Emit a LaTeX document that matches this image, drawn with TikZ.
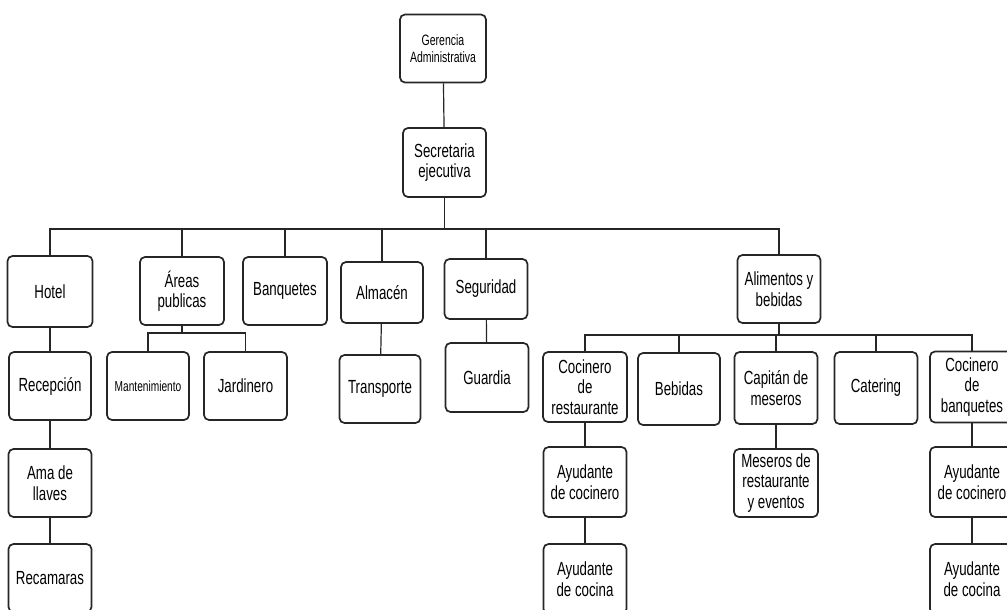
\documentclass[tikz,border=0pt]{standalone}
\usepackage{fontspec}
\setmainfont{Liberation Sans}[FakeStretch=0.70]
\usepackage{tikz}
\usetikzlibrary{positioning}

\tikzset{
  puesto/.style={draw=black!85,line width=1.7pt,rounded corners=5pt,align=center,inner sep=1pt,
    minimum width=83pt,minimum height=69pt,font=\fontsize{19}{20.5}\selectfont},
  linea/.style={line width=1.2pt,black!85}
}

\begin{document}
\begin{tikzpicture}[x=1pt,y=-1pt]
\useasboundingbox (0,0) rectangle (1007,610);
\clip (0,0) rectangle (1007,610);

% direccion
\node[puesto,minimum width=86pt,minimum height=68pt,font=\fontsize{15}{17.5}\selectfont] (ger) at (443,48.5) {Gerencia\\Administrativa};
\node[puesto] (sec) at (444.5,162.5) {Secretaria\\ejecutiva};

% areas
\node[puesto,minimum width=85pt,minimum height=71pt] (hotel) at (50,291.5) {Hotel};
\node[puesto,minimum width=84pt,minimum height=68pt] (areas) at (182,291) {Áreas\\publicas};
\node[puesto,minimum width=84pt,minimum height=68pt] (banq) at (285,291) {Banquetes};
\node[puesto,minimum width=82pt,minimum height=61pt] (alm) at (382,292.5) {Almacén};
\node[puesto,minimum height=60pt] (seg) at (486,289) {Seguridad};
\node[puesto,minimum height=68pt] (alim) at (779,289) {Alimentos y\\bebidas};

% segundo nivel
\node[puesto,minimum width=82pt,minimum height=68pt] (rec) at (50,386) {Recepción};
\node[puesto,minimum width=82pt,minimum height=68pt,font=\fontsize{14.5}{16}\selectfont] (mant) at (148,386) {Mantenimiento};
\node[puesto,minimum height=68pt] (jard) at (245.5,386) {Jardinero};
\node[puesto,minimum width=81pt,minimum height=68pt] (trans) at (380,389) {Transporte};
\node[puesto] (guard) at (487,377.5) {Guardia};
\node[puesto,minimum width=84pt,minimum height=70pt] (cocr) at (585,387) {Cocinero\\de\\restaurante};
\node[puesto,minimum width=82pt,minimum height=72pt] (beb) at (679,389) {Bebidas};
\node[puesto,minimum height=72pt] (cap) at (776,388) {Capitán de\\meseros};
\node[puesto,minimum height=72pt] (cat) at (876,388) {Catering};
\node[puesto,minimum width=84pt,minimum height=71pt] (cocb) at (972,387) {Cocinero\\de\\banquetes};

% tercer nivel
\node[puesto,minimum height=68pt] (ama) at (50,483) {Ama de\\llaves};
\node[puesto,minimum height=68pt] (reca) at (50,578) {Recamaras};
\node[puesto,minimum height=70pt] (ayc1) at (585,482) {Ayudante\\de cocinero};
\node[puesto,minimum height=70pt] (ayk1) at (585,579) {Ayudante\\de cocina};
\node[puesto,minimum width=84pt,minimum height=68pt] (mes) at (776,483) {Meseros de\\restaurante\\y eventos};
\node[puesto,minimum width=84pt,minimum height=70pt] (ayc2) at (972,482) {Ayudante\\de cocinero};
\node[puesto,minimum width=84pt,minimum height=70pt] (ayk2) at (972,579) {Ayudante\\de cocina};

% lineas
\coordinate (bus) at (0,229);
\coordinate (busA) at (0,333);
\coordinate (busB) at (0,335);
\draw[linea] (ger) -- (sec);
\draw[linea] (sec.south) -- (sec.south |- bus);
\draw[linea] (hotel.north) -- (hotel.north |- bus) -- (alim.north |- bus) -- (alim.north);
\foreach \n in {areas,banq,alm,seg}
  \draw[linea] (\n.north) -- (\n.north |- bus);
\draw[linea] (areas.south) -- (areas.south |- busA);
\draw[linea] (mant.north) -- (mant.north |- busA) -- (jard.north |- busA) -- (jard.north);
\draw[linea] (alim.south) -- (alim.south |- busB);
\draw[linea] (cocr.north) -- (cocr.north |- busB) -- (cocb.north |- busB) -- (cocb.north);
\foreach \n in {beb,cap,cat}
  \draw[linea] (\n.north) -- (\n.north |- busB);
\draw[linea] (hotel) -- (rec);
\draw[linea] (rec) -- (ama);
\draw[linea] (ama) -- (reca);
\draw[linea] (alm) -- (trans);
\draw[linea] (seg) -- (guard);
\draw[linea] (cocr) -- (ayc1);
\draw[linea] (ayc1) -- (ayk1);
\draw[linea] (cap) -- (mes);
\draw[linea] (cocb) -- (ayc2);
\draw[linea] (ayc2) -- (ayk2);
\end{tikzpicture}
\end{document}
